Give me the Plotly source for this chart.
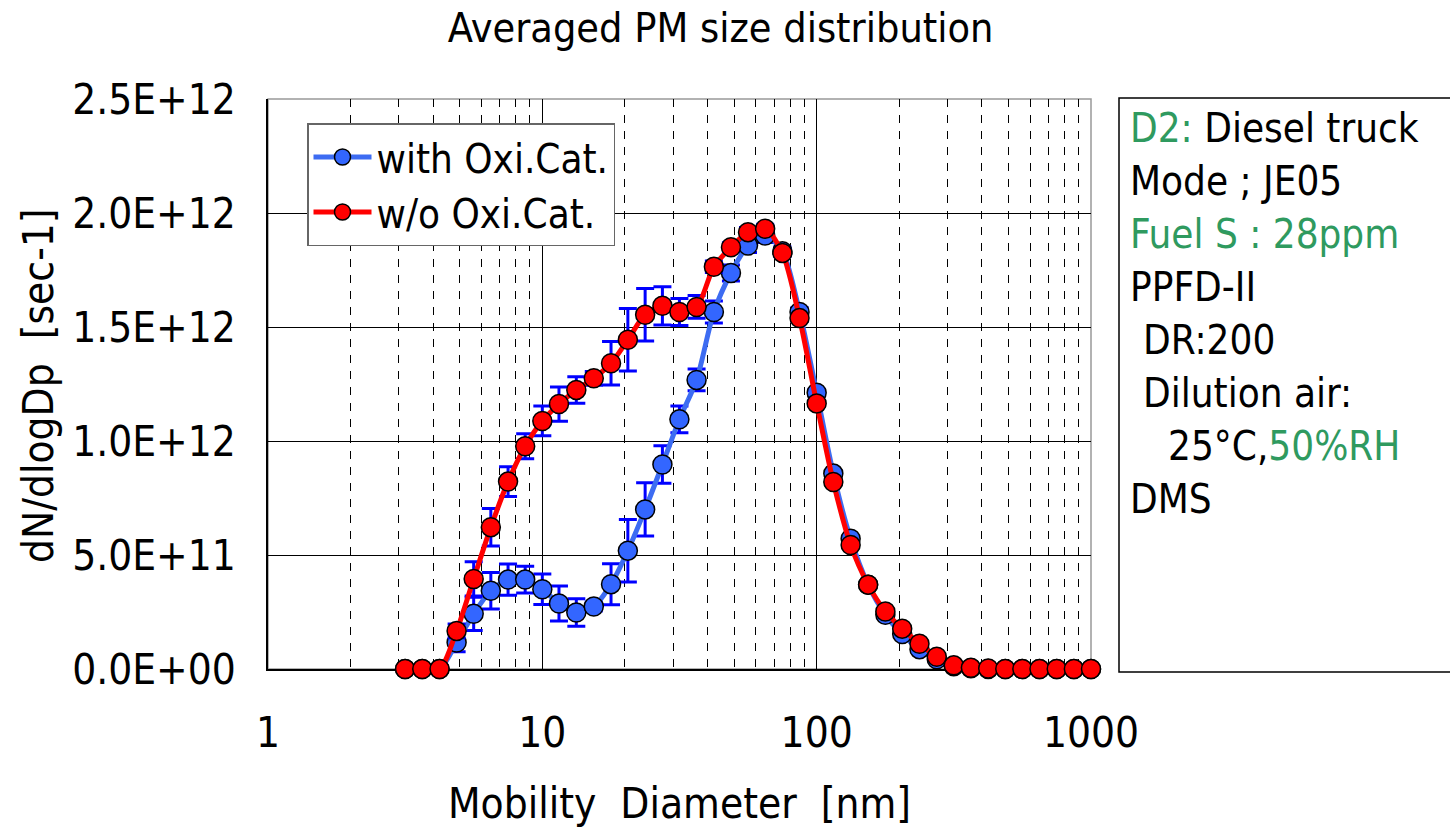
import plotly.graph_objects as go

# ---------------- data ----------------
diameter_nm = [3.16, 3.65, 4.22, 4.87, 5.62, 6.49, 7.5, 8.66, 10, 11.5, 13.3, 15.4,
               17.8, 20.5, 23.7, 27.4, 31.6, 36.5, 42.2, 48.7, 56.2, 64.9, 75, 86.6,
               100, 115, 133, 154, 178, 205, 237, 274, 316, 365, 422, 487, 562, 649,
               750, 866, 1000]

# dN/dlogDp values in units of 1E+12
with_oxicat = [0, 0, 0, 0.116, 0.242, 0.343, 0.392, 0.392, 0.350, 0.287, 0.248, 0.274,
               0.372, 0.519, 0.700, 0.897, 1.095, 1.268, 1.566, 1.737, 1.857, 1.901,
               1.832, 1.566, 1.212, 0.857, 0.571, 0.370, 0.238, 0.153, 0.087, 0.043,
               0.012, 0.003, 0, 0, 0, 0, 0, 0, 0]
with_oxicat_err = [0, 0, 0, 0.040, 0.073, 0.080, 0.068, 0.059, 0.067, 0.077, 0.060, 0.020,
                   0.090, 0.137, 0.117, 0.082, 0.059, 0.048, 0.048, 0.035, 0.030, 0.030,
                   0.020, 0.020, 0.015, 0.012, 0.010, 0.008, 0.006, 0.005, 0.004, 0.003,
                   0, 0, 0, 0, 0, 0, 0, 0, 0]

wo_oxicat = [0, 0, 0, 0.167, 0.395, 0.622, 0.822, 0.977, 1.088, 1.162, 1.224, 1.275,
             1.341, 1.444, 1.554, 1.593, 1.566, 1.588, 1.764, 1.850, 1.916, 1.931,
             1.825, 1.539, 1.165, 0.820, 0.544, 0.370, 0.252, 0.177, 0.111, 0.054,
             0.016, 0.005, 0.002, 0, 0, 0, 0, 0, 0]
wo_oxicat_err = [0, 0, 0, 0.030, 0.075, 0.082, 0.065, 0.055, 0.065, 0.075, 0.058, 0.030,
                 0.095, 0.137, 0.115, 0.084, 0.059, 0.050, 0.025, 0.020, 0.020, 0.020,
                 0.015, 0.015, 0.012, 0.010, 0.008, 0.006, 0.005, 0.004, 0.003, 0.002,
                 0, 0, 0, 0, 0, 0, 0, 0, 0]

UNIT = 1e12

x_tickvals = [1, 10, 100, 1000]
x_ticktext = ["1", "10", "100", "1000"]
y_tickvals = [0, 0.5e12, 1.0e12, 1.5e12, 2.0e12, 2.5e12]
y_ticktext = ["0.0E+00", "5.0E+11", "1.0E+12", "1.5E+12", "2.0E+12", "2.5E+12"]
minor_x = [m * d for d in (1, 10, 100) for m in range(2, 10)]

info_lines = [
    ('<span style="color:#2F9A5F">D2:</span> Diesel truck', 1128),
    ("Mode ; JE05", 1128),
    ('<span style="color:#2F9A5F">Fuel S : 28ppm</span>', 1128),
    ("PPFD-II", 1128),
    ("DR:200", 1141),
    ("Dilution air:", 1141),
    ('25°C,<span style="color:#2F9A5F">50%RH</span>', 1166),
    ("DMS", 1128),
]

FONT = "DejaVu Sans Condensed, Liberation Sans, sans-serif"

# ---------------- figure ----------------
fig = go.Figure()

fig.add_trace(go.Scatter(
    x=diameter_nm, y=[v * UNIT for v in with_oxicat], name="with Oxi.Cat.",
    mode="lines+markers",
    line=dict(color="#3D6CF2", width=5, shape="spline", smoothing=0.8),
    marker=dict(size=19, color="#3366FF", line=dict(color="black", width=1.5)),
    error_y=dict(type="data", array=[e * UNIT for e in with_oxicat_err],
                 color="#0000FF", thickness=3, width=9),
    cliponaxis=False,
))
fig.add_trace(go.Scatter(
    x=diameter_nm, y=[v * UNIT for v in wo_oxicat], name="w/o Oxi.Cat.",
    mode="lines+markers",
    line=dict(color="#FF0000", width=5, shape="spline", smoothing=0.8),
    marker=dict(size=19, color="#FF0000", line=dict(color="black", width=1.5)),
    error_y=dict(type="data", array=[e * UNIT for e in wo_oxicat_err],
                 color="#0000FF", thickness=3, width=9),
    cliponaxis=False,
))

W, H = 1450, 828
L, R, T, B = 268, 359, 99, 159
pw, ph = W - L - R, H - T - B


def px_x(px):
    return (px - L) / pw


def px_y(py):
    return (H - B - py) / ph


annotations = []
for i, (txt, xpx) in enumerate(info_lines):
    annotations.append(dict(
        text=txt, xref="paper", yref="paper", x=px_x(xpx), y=px_y(128 + i * 53.0),
        xanchor="left", yanchor="middle", showarrow=False,
        font=dict(family=FONT, size=40, color="black"),
    ))
# y-axis title placed explicitly
annotations.append(dict(
    text="dN/dlogDp&nbsp;&nbsp;[sec-1]", xref="paper", yref="paper",
    x=px_x(38), y=px_y(386), xanchor="center", yanchor="middle",
    textangle=-90, showarrow=False,
    font=dict(family=FONT, size=42, color="black"),
))

fig.update_layout(
    width=W, height=H,
    margin=dict(l=L, r=R, t=T, b=B, autoexpand=False),
    paper_bgcolor="white", plot_bgcolor="white",
    font=dict(family=FONT, size=40, color="black"),
    title=dict(text="Averaged PM size distribution", x=0.497, xref="container",
               xanchor="center", y=1 - 28 / H, yref="container", yanchor="middle",
               font=dict(family=FONT, size=41, color="black")),
    showlegend=True,
    legend=dict(x=px_x(307), y=px_y(123), xanchor="left", yanchor="top",
                bgcolor="white", bordercolor="#666666", borderwidth=1.5,
                font=dict(family=FONT, size=40, color="black"),
                itemwidth=58, tracegroupgap=0),
    annotations=annotations,
    shapes=[
        dict(type="rect", xref="paper", yref="paper", x0=0, x1=1, y0=0, y1=1,
             line=dict(color="#999999", width=1.5), layer="below"),
        dict(type="rect", xref="paper", yref="paper",
             x0=px_x(1119), x1=px_x(1455), y0=px_y(672), y1=px_y(98),
             line=dict(color="black", width=1.5)),
    ],
)

fig.update_xaxes(
    type="log", range=[0, 3], automargin=False,
    tickvals=x_tickvals, ticktext=x_ticktext,
    showgrid=True, gridcolor="black", gridwidth=1,
    showline=True, linecolor="black", linewidth=1.5,
    ticks="", ticklabelstandoff=26, zeroline=False,
    tickfont=dict(family=FONT, size=42, color="black"),
    minor=dict(tickvals=minor_x, showgrid=True, gridcolor="black", gridwidth=1,
               griddash="8px,8px", ticks=""),
    layer="below traces",
    title=dict(text="Mobility&nbsp;&nbsp;Diameter&nbsp;&nbsp;[nm]",
               font=dict(family=FONT, size=42, color="black"), standoff=37),
)
fig.update_yaxes(
    range=[0, 2.5e12], automargin=False,
    tickvals=y_tickvals, ticktext=y_ticktext,
    showgrid=True, gridcolor="black", gridwidth=1,
    showline=True, linecolor="black", linewidth=1.5,
    ticks="", ticklabelstandoff=22, zeroline=False,
    tickfont=dict(family=FONT, size=42, color="black"),
    layer="below traces",
)

fig.write_html("out.html")
